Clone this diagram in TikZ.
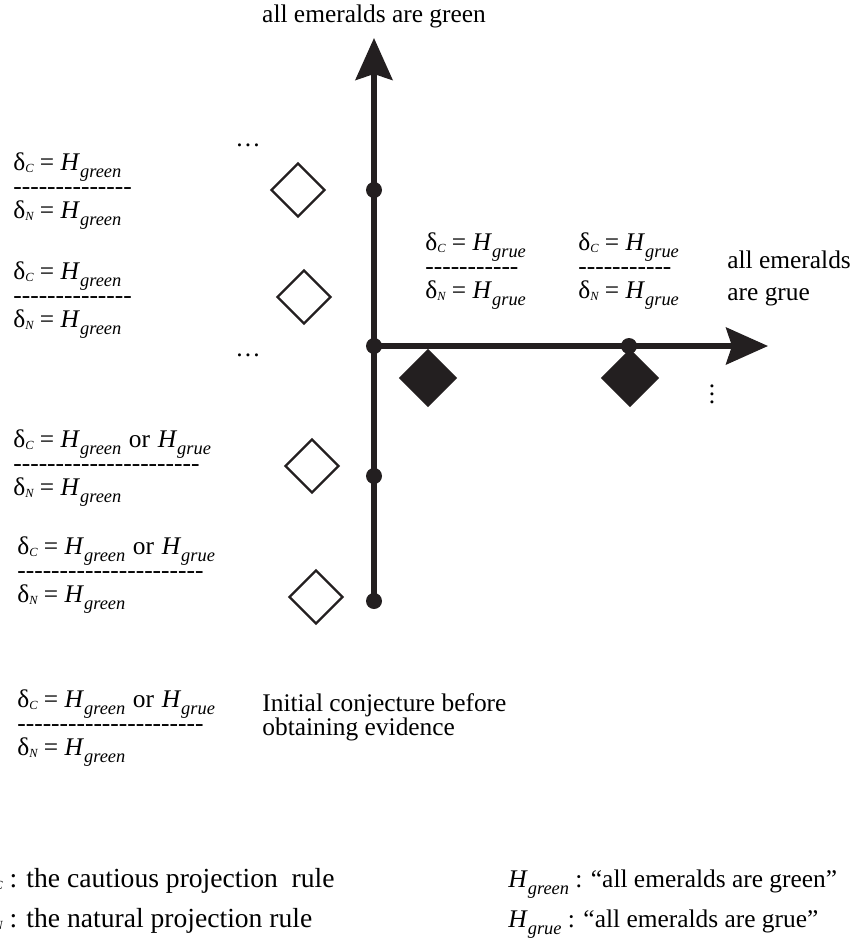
\documentclass[tikz,border=0pt]{standalone}
\usepackage{fontspec}
\setmainfont{Liberation Serif}[Ligatures=TeXOff]
\usetikzlibrary{arrows.meta,positioning,shapes.geometric}
\definecolor{ink}{HTML}{231F20}
\newcommand{\lblfont}{\fontsize{12.7}{12}\selectfont\lineskiplimit=-20pt\lineskip=0pt}
\newcommand{\keyfont}{\fontsize{13.8}{14}\selectfont}
\newcommand{\dlt}[1]{δ\raisebox{-1pt}{\fontsize{6.2}{6.2}\selectfont\itshape #1}}
\newcommand{\hyp}[1]{\textit{H}\raisebox{-3.5pt}{\fontsize{9.2}{9.2}\selectfont\itshape #1}}
\newcommand{\orr}{\hspace{0.3em}or\hspace{0.3em}}
\begin{document}
\begin{tikzpicture}[
  x=0.5pt, y=-0.5pt,
  axis/.style={draw=ink, line width=2.6pt, -{Stealth[length=21pt, width=18.5pt, inset=3pt]}},
  dot/.style={circle, fill=ink, inner sep=0pt, minimum size=8pt},
  emptygem/.style={diamond, draw=ink, line width=1.2pt, fill=white, inner sep=0pt, minimum size=27pt},
  fullgem/.style={emptygem, fill=ink, minimum size=28pt},
  block/.style={font=\lblfont, align=left, inner sep=0pt, anchor=base west},
  note/.style={font=\lblfont, inner sep=0pt}
]
\useasboundingbox (0,0) rectangle (856,938);

\coordinate (ytip) at (374,38);
\coordinate (xtip) at (768,346);
\node[dot] (o) at (374,346) {};
\node[dot] (v1) at (374,190) {};
\node[dot] (v2) at (374,476) {};
\node[dot] (v3) at (374,601) {};
\node[dot] (h1) at (629,346) {};
\draw[axis] (v3.center) -- (o.center) -- (ytip);
\draw[axis] (o.center) -- (xtip);

\node[note, above=5pt of ytip] (green) {all emeralds are green};
\node[block, font=\fontsize{12.7}{16}\selectfont] (grue) at (727,300) {all emeralds\\are grue};

\node[emptygem] (d1) at (298,190) {};
\node[emptygem] (d2) at (304,297) {};
\node[emptygem] (d3) at (312,466) {};
\node[emptygem] (d4) at (316,597) {};
\node[fullgem] (f1) at (428,378) {};
\node[fullgem] (f2) at (630,378) {};

\node[note] (more1) at (248,145) {…};
\node[note] (more2) at (248,355) {…};
\node[note] (more3) at (712,388) {\vdots};

\node[block] (b1) at (13,218) {\dlt{C} = \hyp{green}\\--------------\\\dlt{N} = \hyp{green}};
\node[block] (b2) at (13,327) {\dlt{C} = \hyp{green}\\--------------\\\dlt{N} = \hyp{green}};
\node[block] (b3) at (13,495) {\dlt{C} = \hyp{green}\orr\hyp{grue}\\----------------------\\\dlt{N} = \hyp{green}};
\node[block] (b4) at (17,602) {\dlt{C} = \hyp{green}\orr\hyp{grue}\\----------------------\\\dlt{N} = \hyp{green}};
\node[block] (b5) at (17,755) {\dlt{C} = \hyp{green}\orr\hyp{grue}\\----------------------\\\dlt{N} = \hyp{green}};
\node[block] (ra) at (425,298) {\dlt{C} = \hyp{grue}\\-----------\\\dlt{N} = \hyp{grue}};
\node[block] (rb) at (578,298) {\dlt{C} = \hyp{grue}\\-----------\\\dlt{N} = \hyp{grue}};

\node[block] (init) at (262,735) {Initial conjecture before\\obtaining evidence};

\node[block, font=\keyfont] (lc) at (-19,887) {\dlt{C} : the cautious projection\ \ rule};
\node[block, font=\keyfont] (ln) at (-19,927) {\dlt{N} : the natural projection rule};
\node[block] (lg) at (508,887) {\hyp{green} : “all emeralds are green”};
\node[block] (lr) at (508,927) {\hyp{grue} : “all emeralds are grue”};

\end{tikzpicture}
\end{document}
